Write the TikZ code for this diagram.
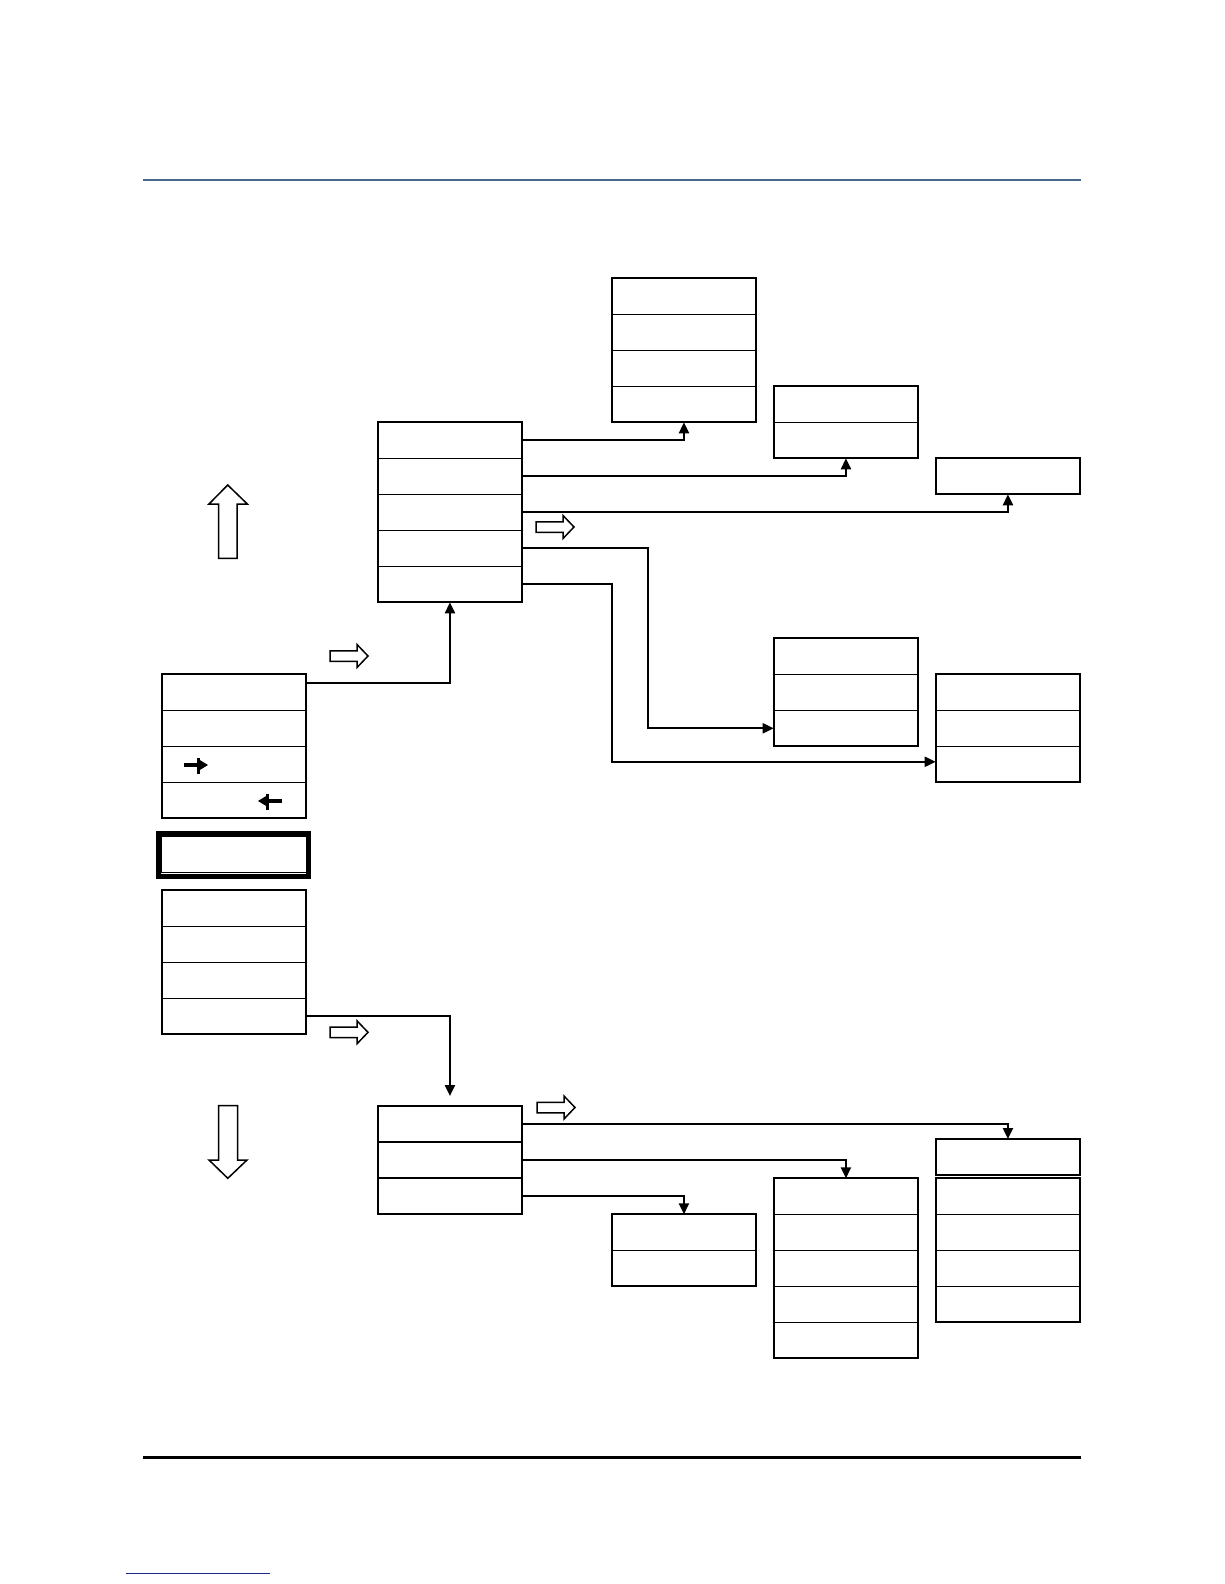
\documentclass[tikz,border=0pt]{standalone}
\usetikzlibrary{arrows.meta,fit}
\definecolor{topblue}{RGB}{72,104,140}
\definecolor{navyline}{RGB}{30,40,140}
\newcommand{\cellbox}[4]{%
  \foreach \i in {1,...,#4}{\node[cell] (#1\i) at (#2,{#3+36*(\i-1)}) {};}
  \node[frame, fit=(#11)(#1#4)] (#1) {};}
\begin{document}
\begin{tikzpicture}[x=1pt,y=-1pt,
  cell/.style={draw, line width=1.2pt, minimum width=144.5pt, minimum height=36pt, inner sep=0pt, outer sep=0pt, anchor=north west},
  frame/.style={draw, line width=2pt, inner sep=0pt, outer sep=0pt},
  conn/.style={line width=2.1pt, -{Triangle[length=11pt,width=10pt]}},
  hollow/.style={draw, line width=1.5pt, fill=white, line join=miter},
  hollowarrow/.pic={\draw[hollow] (0,-5.25) -- (27,-5.25) -- (27,-11.5) -- (38,0) -- (27,11.5) -- (27,5.25) -- (0,5.25) -- cycle;}
]
\fill[white] (0,0) rectangle (1224,1584);
\useasboundingbox (0,0) rectangle (1224,1584);

% page rules
\draw[line width=2.4pt, topblue] (143.4,179.8) -- (1080.6,179.8);
\draw[line width=2.6pt, black] (143.4,1457.3) -- (1080.6,1457.3);
\draw[line width=1.8pt, navyline] (126.2,1573.4) -- (269.6,1573.4);

% boxes
\cellbox{C}{611.7}{278.3}{4}
\cellbox{D}{773.7}{386.3}{2}
\cellbox{K}{935.7}{458.3}{1}
\cellbox{B}{377.7}{422.3}{5}
\cellbox{L}{773.7}{638.3}{3}
\cellbox{M}{935.7}{674.3}{3}
\cellbox{A}{161.7}{674.3}{4}
\cellbox{J}{161.7}{890.3}{4}
\cellbox{E}{377.7}{1106}{3}
\cellbox{H}{935.7}{1139}{1}
\cellbox{I}{935.7}{1178.3}{4}
\cellbox{G}{773.7}{1178.3}{5}
\cellbox{F}{611.7}{1214.3}{2}

% double-framed box
\node[draw, line width=4.8pt, minimum width=150.6pt, minimum height=43.4pt, inner sep=0pt, outer sep=0pt, anchor=north west] (Dbl) at (158.1,833.4) {};
\node[draw, line width=1.1pt, minimum width=144.5pt, minimum height=36pt, inner sep=0pt, outer sep=0pt, anchor=north west] (DblIn) at (161.7,836.6) {};

% connectors
\coordinate (v4) at (648,0);
\coordinate (v5) at (612,0);
\draw[conn] (B1.east) -| (C4.south);
\draw[conn] (B2.east) -| (D2.south);
\draw[conn] (B3.east) -| (K1.south);
\draw[conn] (B4.east) -- (B4.east -| v4) |- (L3.west);
\draw[conn] (B5.east) -- (B5.east -| v5) |- ([yshift=2.5pt]M3.west);
\draw[conn] ([yshift=9pt]A1.east) -| (B5.south);
\draw[conn] (J4.east) -| ([yshift=10pt]E1.north);
\draw[conn] (E1.east) -| (H1.north);
\draw[conn] (E2.east) -| (G1.north);
\draw[conn] (E3.east) -| (F1.north);

% hollow small arrows
\pic at (330,656) {hollowarrow};
\pic at (536,527) {hollowarrow};
\pic at (330,1032.3) {hollowarrow};
\pic at (537,1107.5) {hollowarrow};

% big hollow arrows
\draw[hollow] (227.7,485) -- (247.3,504) -- (237,504) -- (237,558.3) -- (218.7,558.3) -- (218.7,504) -- (209,504) -- cycle;
\draw[hollow] (218.7,1105.7) -- (237.5,1105.7) -- (237.5,1160) -- (247,1160) -- (227.8,1178.3) -- (209,1160) -- (218.7,1160) -- cycle;

% small glyph arrows in box A
\draw[line width=3.2pt] (184,765) -- (203,765);
\draw[line width=3pt] (198.5,757.5) -- (198.5,774);
\fill (199,759.5) -- (208,765) -- (199,770.5) -- cycle;
\draw[line width=3.2pt] (282,801) -- (263,801);
\draw[line width=3pt] (267.5,793.5) -- (267.5,810);
\fill (267,795.5) -- (258,801) -- (267,806.5) -- cycle;
\end{tikzpicture}
\end{document}
